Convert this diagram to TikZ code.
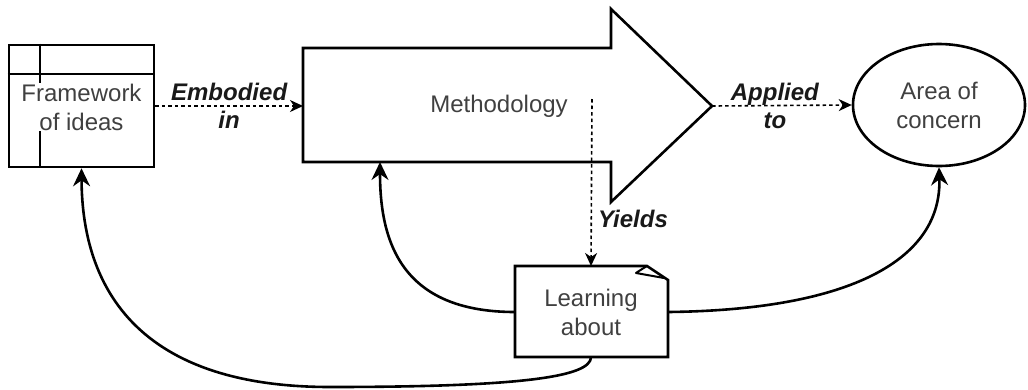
\documentclass[tikz,border=0pt]{standalone}
\usepackage{fontspec}
\setmainfont{Liberation Sans}
\usetikzlibrary{arrows.meta,shapes.geometric}
\definecolor{txt}{HTML}{404040}
\begin{document}
\begin{tikzpicture}[x=1pt,y=-1pt,
  shapeline/.style={line width=2.6pt, line join=miter},
  nodetext/.style={font=\fontsize{24}{29}\selectfont, text=txt, align=center, inner sep=1pt},
  lbl/.style={font=\fontsize{24}{28}\selectfont\bfseries\itshape, align=center, inner sep=0pt, text=black!90},
  dotarrow/.style={dash pattern=on 3.5pt off 3pt, line width=1.6pt, -{Stealth[length=13pt,width=12pt,inset=4pt]}},
  curvearrow/.style={line width=2.6pt, -{Stealth[length=18pt,width=17pt,inset=6pt]}},
]
\useasboundingbox (0,0) rectangle (1028,389);

% Framework of ideas
\node[draw, shapeline, minimum width=145pt, minimum height=122pt, inner sep=0pt] (fwbox) at (81.5,106) {};
\draw[shapeline] (fwbox.north west |- 0,74) -- (fwbox.north east |- 0,74);
\draw[shapeline] (40,0 |- fwbox.north) -- (40,0 |- fwbox.south);
\node[nodetext, fill=white] (fw) at (81.5,107) {Framework\\of ideas};

% Methodology arrow
\draw[shapeline] (303,48) -- (611,48) -- (611,9) -- (712,106) -- (611,202) -- (611,162) -- (303,162) -- cycle;
\node[nodetext] (meth) at (499,106) {Methodology};
\coordinate (meth-w) at (303,106);
\coordinate (meth-tip) at (712,106);
\coordinate (meth-s) at (380,162);
\coordinate (yield-start) at (592,99);

% Learning about (note)
\draw[shapeline] (515,266) -- (647,266) -- (668,280) -- (668,357) -- (515,357) -- cycle;
\draw[line width=2pt, line join=round] (647,266) .. controls (642,269) and (639,271) .. (636,273) -- (664,278);
\node[nodetext] (learn) at (591,312) {Learning\\about};
\coordinate (learn-n) at (591,266);
\coordinate (learn-w) at (515,312);
\coordinate (learn-e) at (668,312);
\coordinate (learn-s) at (591,357);

% Area of concern
\node[draw, shapeline, ellipse, minimum width=172pt, minimum height=122pt, inner sep=0pt, nodetext] (area) at (939,105) {Area of\\concern};

% dotted connectors
\draw[dotarrow] (fwbox.east) -- (meth-w) node[midway, lbl] {Embodied\\in};
\draw[dotarrow] (meth-tip) -- (area.west) node[pos=0.45, lbl] {Applied\\to};
\draw[dotarrow] (yield-start) -- (learn-n) node[pos=0.72, lbl, anchor=west, xshift=6pt] {Yields};

% curved feedback connectors
\draw[curvearrow] (learn-w) .. controls (400,312) and (380,240) .. (meth-s);
\draw[curvearrow] (learn-s) .. controls (591,377) and (520,387) .. (330,387) .. controls (140,387) and (82,290) .. (fwbox.south);
\draw[curvearrow] (learn-e) .. controls (850,310) and (942,260) .. (area.south);
\end{tikzpicture}
\end{document}
